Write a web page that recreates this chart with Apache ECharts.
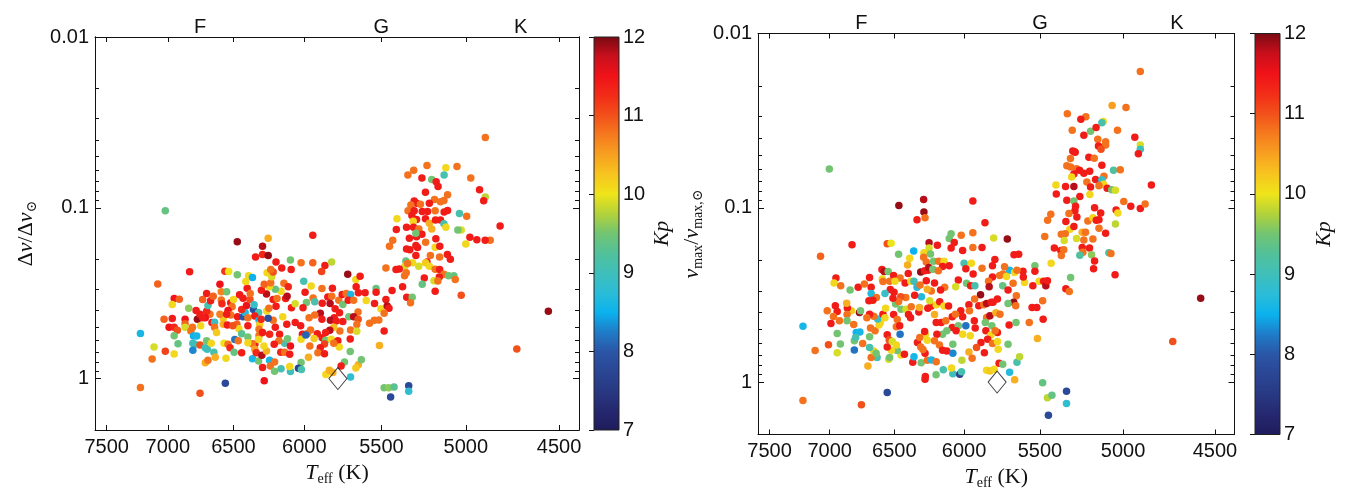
<!DOCTYPE html>
<html><head><meta charset="utf-8">
<script src="https://cdn.jsdelivr.net/npm/echarts@6.0.0/dist/echarts.min.js"></script>
<style>html,body{margin:0;padding:0;background:#fff}#c{width:1345px;height:495px}</style>
</head><body><div id="c"></div>
<script>
// ---------- tick labels / categories ----------
const teffTicks = [7500, 7000, 6500, 6000, 5500, 5000, 4500];
const spectralTeff = [6750, 5500, 4700];
const spectralLabels = ['F', 'G', 'K'];
const yMajorTicks = [0.01, 0.1, 1];
const yMinorTicks = [0.02, 0.03, 0.04, 0.05, 0.06, 0.07, 0.08, 0.09, 0.2, 0.3, 0.4, 0.5, 0.6, 0.7, 0.8, 0.9];
const kpTicks = [7, 8, 9, 10, 11, 12];
const kpRange = [[0, 7, 1, 12]];
const sunPoint = [[5777, 1]];
const jetColors = ['#1f1b5c','#25286f','#283882','#2a4694','#2b55a6','#1f7cc8','#0bb2ee','#2bbcd8','#3fbfba','#52c19a','#72c472','#b2d23a','#efe41a','#f7c41f','#f7a020','#f57a1e','#f2501a','#f22c18','#f01218','#c80f1c','#780a12'];

// ---------- series values: [Teff, ratio, Kp] ----------
const dnuStars = [
[7020,0.104,9.4],[6472,0.158,11.9],[6290,0.168,11.8],[6250,0.151,10.4],[6290,0.188,11.3],[6250,0.19,11.9],[6340,0.194,11.4],[6095,0.202,9.5],[6830,0.237,11.4],[6563,0.235,11.2],[6535,0.236,10.0],[6472,0.247,9.5],[6390,0.25,10.1],[6362,0.256,8.5],[7080,0.279,10.9],[6600,0.28,11.5],[6950,0.34,11.5],[6910,0.343,10.9],[6965,0.368,10.1],[6837,0.387,9.6],[6780,0.40,11.4],[7030,0.45,10.9],[6965,0.445,11.4],[6865,0.45,11.5],[6770,0.45,11.9],[6865,0.477,10.9],[6990,0.50,11.5],[6950,0.50,11.3],[6925,0.522,11.0],[6865,0.50,9.9],[6820,0.527,10.8],[6950,0.561,9.5],[6920,0.625,9.4],[7110,0.653,9.9],[7020,0.692,11.1],[6950,0.717,10.1],[7125,0.768,10.8],[7220,0.544,8.6],[7220,1.128,10.8],[6750,1.22,11.0],[6560,1.065,7.8],[6278,1.03,11.5],
[6800,0.563,8.5],[6775,0.563,8.6],[6805,0.62,9.0],[6790,0.63,9.0],[6805,0.683,8.3],[6750,0.636,11.0],[6710,0.66,9.0],[6695,0.674,9.0],[6710,0.807,10.4],[6690,0.78,10.8],[6700,0.60,9.5],[6665,0.62,10.1],[6645,0.70,9.1],[6635,0.75,10.4],[6660,0.47,11.4],[6640,0.468,8.9],[6640,0.50,10.8],[6625,0.538,10.2],[6675,0.42,10.8],[6700,0.403,11.3],[6710,0.44,11.5],[6690,0.373,9.1],[6730,0.344,10.9],[6700,0.318,11.4],[6590,0.31,10.7],[6550,0.31,9.5],[6590,0.347,10.8],[6585,0.364,11.3],[6520,0.36,11.4],[6510,0.38,10.8],[6500,0.344,10.1],[6540,0.40,11.5],[6575,0.445,10.2],[6600,0.42,10.7],[6575,0.48,10.4],[6545,0.485,11.4],[6520,0.425,10.8],[6570,0.62,10.0],[6540,0.63,10.8],[6525,0.66,11.3],[6555,0.76,10.1],[6495,0.70,9.4],[6490,0.59,8.2],[6465,0.60,10.8],[6475,0.48,10.9],[6460,0.51,10.1],[6470,0.435,11.4],[6430,0.435,8.0],[6415,0.41,8.7],[6395,0.44,10.8],[6395,0.49,11.4],[6440,0.546,9.3],[6395,0.57,9.5],[6440,0.394,11.3],[6405,0.373,11.5],[6380,0.344,11.0],[6430,0.338,11.4],[6455,0.323,11.4],[6400,0.296,11.4],[6410,0.27,10.1],[6378,0.318,10.8],[6355,0.394,7.9],[6318,0.41,9.1],[6350,0.37,8.9],[6345,0.43,11.4],[6315,0.456,8.6],[6310,0.48,10.2],[6300,0.45,11.3],[6315,0.515,10.8],[6345,0.63,11.4],[6363,0.625,10.8],[6345,0.674,10.5],[6362,0.765,8.6],[6335,0.705,11.3],[6318,0.79,9.5],[6295,0.73,11.8],[6290,0.86,11.4],[6262,0.69,10.4],[6280,0.644,10.1],[6240,0.78,8.6],[6235,0.843,10.8],[6205,0.80,10.8],[6205,0.906,9.5],[6160,0.875,9.1],[6162,0.70,11.3],[6135,0.70,10.8],[6100,0.72,11.4],[6095,0.91,9.0],[6100,0.85,10.1],[6135,0.62,9.1],[6115,0.585,9.5],[6170,0.55,11.4],[6200,0.50,11.4],[6215,0.456,10.8],[6148,0.435,10.1],[6250,0.443,7.9],[6260,0.402,10.1],[6245,0.388,10.8],[6195,0.377,11.4],[6215,0.344,11.4],[6188,0.34,10.8],[6128,0.34,11.4],[6118,0.33,11.8],[6160,0.308,10.1],[6200,0.30,9.4],[6242,0.29,10.1],[6262,0.32,11.8],[6298,0.304,11.4],[6278,0.28,10.9],[6232,0.275,10.8],[6225,0.253,9.9],[6258,0.24,10.1],[6215,0.238,11.0],[6155,0.225,11.4],[6090,0.23,11.4],[6140,0.277,10.8],[6110,0.29,11.3],[6195,0.208,11.4],[6232,0.23,10.8],[6088,0.385,11.4],[6120,0.48,11.4],[6095,0.645,11.5],[6175,0.60,10.8],[6208,0.63,11.4],[6315,0.56,10.8],[6290,0.538,11.4],[6240,0.55,11.3],[6318,0.59,10.1],[6440,0.705,11.4],[6395,0.616,10.1],[6505,0.49,11.0],[6550,0.42,11.4],[6670,0.35,11.4],[6650,0.33,10.9],[6808,0.50,10.8],[6745,0.49,10.1],[6730,0.44,11.4],[6750,0.42,11.4],
[5943,0.145,11.4],[6022,0.21,10.8],[5943,0.21,10.9],[5862,0.218,11.4],[5884,0.236,11.1],[5818,0.208,9.8],[5713,0.245,11.9],[5661,0.263,10.1],[5634,0.252,11.4],[6004,0.269,9.1],[5954,0.287,10.1],[5882,0.297,10.8],[5813,0.296,11.4],[5995,0.312,11.4],[6063,0.364,9.9],[5986,0.358,9.5],[6009,0.385,11.4],[5941,0.337,10.8],[5930,0.355,9.1],[5880,0.362,11.4],[5843,0.333,11.4],[5817,0.33,10.8],[5828,0.363,11.8],[5795,0.39,11.4],[5771,0.348,10.8],[5749,0.322,11.4],[5723,0.318,10.8],[5695,0.322,8.6],[5745,0.368,9.5],[5710,0.348,11.4],[5675,0.348,10.8],[5645,0.314,11.4],[5602,0.314,11.4],[5595,0.349,10.1],[5659,0.29,11.4],[5533,0.297,9.4],[5533,0.312,11.4],[5472,0.344,11.4],[5434,0.305,11.4],[5543,0.363,11.4],[5503,0.39,10.1],[5464,0.376,11.8],[5453,0.388,11.4],[5483,0.415,10.8],[5647,0.408,10.8],[5766,0.412,11.4],[5801,0.44,11.4],[5893,0.415,11.8],[5930,0.424,10.8],[5968,0.44,10.8],[5882,0.45,11.4],[5826,0.455,11.8],[5788,0.46,11.4],[5745,0.463,11.4],[5706,0.434,9.5],[5675,0.434,11.8],[5646,0.45,11.0],[5574,0.474,10.8],[5544,0.455,10.8],[5516,0.454,10.8],[5655,0.482,10.8],[5695,0.52,10.8],[5655,0.528,9.9],[5764,0.526,10.8],[5804,0.50,10.3],[5830,0.522,11.8],[5857,0.538,11.4],[5913,0.546,11.4],[5958,0.52,10.8],[5980,0.544,10.8],[6025,0.49,11.4],[6062,0.47,11.4],[6013,0.55,11.4],[6022,0.589,10.1],[5963,0.644,10.8],[5934,0.582,10.2],[5880,0.576,11.4],[5857,0.597,9.5],[5820,0.589,10.1],[5777,0.60,11.4],[5768,0.654,10.1],[5804,0.622,10.8],[5865,0.627,11.1],[5893,0.66,11.4],[5909,0.705,10.8],[5865,0.715,11.4],[5697,0.587,11.4],[5697,0.693,9.5],[5512,0.64,10.4],[5483,0.527,11.4],[5972,0.75,10.4],[6022,0.806,9.5],[5990,0.556,8.1],[6040,0.87,7.7],[6020,0.885,9.1],[5734,0.80,9.5],[5756,0.843,11.4],[5645,0.83,10.4],[5626,0.775,9.5],[5661,0.866,10.2],[5695,0.978,8.8],[5856,0.947,10.1],[5833,0.894,10.4],[5810,0.92,10.4],
[5483,1.13,9.5],[5455,1.13,9.6],[5422,1.12,9.3],[5333,1.10,7.8],[5333,1.185,8.8],[5443,1.28,7.8],
[5224,0.0565,10.8],[5114,0.0583,10.1],[5338,0.0643,10.8],[5303,0.0603,10.8],[5124,0.0643,9.1],[5254,0.067,11.4],[5196,0.0683,9.5],[5170,0.0703,11.4],[5159,0.0751,11.4],[5233,0.081,11.4],[5104,0.0838,10.8],[5180,0.0895,10.8],[5145,0.0921,10.8],[5125,0.0907,10.8],[5300,0.0912,11.4],[5286,0.094,11.4],[5320,0.0964,10.8],[5263,0.0953,10.8],[5210,0.094,11.4],[5337,0.104,10.8],[5300,0.104,11.4],[5252,0.105,11.4],[5221,0.105,11.4],[5176,0.104,10.8],[5124,0.106,11.4],[5104,0.1036,11.4],[5404,0.116,10.1],[5314,0.111,11.4],[5286,0.117,11.4],[5306,0.12,10.1],[5233,0.116,11.4],[5210,0.123,10.4],[5196,0.133,10.4],[5174,0.118,11.4],[5145,0.118,11.4],[5125,0.124,9.1],[5114,0.13,10.1],[5346,0.13,11.4],[5408,0.134,11.4],[5304,0.13,11.4],[5272,0.133,10.8],[5254,0.143,11.4],[5286,0.148,11.4],[5329,0.151,11.4],[5290,0.141,9.5],[5172,0.152,11.4],[5232,0.159,10.8],[5430,0.155,10.8],[5450,0.168,10.8],[5290,0.166,11.4],[5280,0.171,11.4],[5346,0.174,11.4],[5326,0.176,11.4],[5176,0.17,10.1],[5149,0.168,11.4],[5105,0.188,11.4],[5150,0.194,10.8],[5204,0.19,10.8],[5290,0.19,11.4],[5224,0.208,11.4],[5310,0.21,10.1],[5350,0.205,9.4],[5356,0.22,9.9],[5340,0.212,10.8],[5273,0.22,9.9],[5233,0.21,10.2],[5210,0.22,10.1],[5176,0.229,10.8],[5150,0.23,11.4],[5125,0.245,10.8],[5152,0.254,11.4],[5183,0.267,9.9],[5160,0.268,10.8],[5240,0.258,11.4],[5252,0.28,9.4],[5176,0.308,11.4],[5370,0.29,11.4],[5358,0.25,10.8],[5348,0.24,10.8],[5410,0.23,11.4],[5390,0.228,11.4],[5472,0.225,10.8],[5345,0.334,11.4],[5312,0.334,9.5],[5322,0.36,10.8],[5098,0.25,9.5],
[4891,0.0388,10.8],[5050,0.0573,10.8],[4972,0.067,10.8],[4923,0.0784,11.4],[4891,0.0865,9.8],[4900,0.091,11.4],[4810,0.128,11.4],[4864,0.155,10.8],[4892,0.155,11.4],[4938,0.154,11.4],[4977,0.149,11.4],[5000,0.163,10.1],[4995,0.112,10.8],[5026,0.135,9.9],[5036,0.108,9.1],[5045,0.135,9.5],[5068,0.25,9.4],[5060,0.263,10.8],[5026,0.325,11.0],[5088,0.2,11.4],[4555,0.403,11.9],[4720,0.671,11.0]
];

const numaxStars = [
[6285,0.0896,11.8],[6466,0.0969,11.9],[6283,0.1059,11.9],[6275,0.114,10.8],[6333,0.117,11.4],[6823,0.163,11.4],[7074,0.19,10.9],[6553,0.161,11.0],[6524,0.16,10.0],[6246,0.159,11.8],[6187,0.164,11.4],[6090,0.141,9.5],[6103,0.15,9.5],[6090,0.17,11.4],[6468,0.185,9.5],[6357,0.177,8.5],[6283,0.181,10.1],[6246,0.17,9.9],[6285,0.192,10.8],[6236,0.184,9.5],[6386,0.195,10.1],[6402,0.213,10.4],[6266,0.205,10.8],[6214,0.203,9.5],[6178,0.203,10.8],[6140,0.203,10.1],[6150,0.217,11.4],[6103,0.215,11.4],[6253,0.228,11.4],[6306,0.234,11.9],[6278,0.23,11.4],[6248,0.22,11.8],[6219,0.225,9.5],[6180,0.23,10.8],[6593,0.226,11.4],[6576,0.232,11.8],[6546,0.232,9.5],[6505,0.245,11.4],[6397,0.238,11.4],[6457,0.253,10.8],[6950,0.253,11.4],[6965,0.27,10.1],[6912,0.28,10.8],[6838,0.296,9.5],[6775,0.286,11.4],[6727,0.274,10.8],[6687,0.251,11.4],[6675,0.286,11.4],[6590,0.256,10.1],[6585,0.265,10.8],[6535,0.264,10.8],[6495,0.264,10.1],[6420,0.27,11.4],[6378,0.264,10.1],[6355,0.264,9.0],[6333,0.286,8.7],[6311,0.277,10.8],[6266,0.262,11.4],[6207,0.27,11.4],[6135,0.286,10.8],[6164,0.296,11.4],[6230,0.30,10.8],[6259,0.293,10.4],[6301,0.324,8.7],[6350,0.318,11.4],[6415,0.327,10.8],[6452,0.324,11.0],[6502,0.305,11.4],[6530,0.294,11.4],[6570,0.31,8.9],[6675,0.31,8.7],[6635,0.327,10.8],[6662,0.339,11.4],[6692,0.342,11.4],[6765,0.399,11.9],[6757,0.39,9.5],[6828,0.39,10.2],[6860,0.376,11.4],[6865,0.353,10.4],[6940,0.394,11.4],[6955,0.365,11.4],[7020,0.39,10.8],[6970,0.42,10.8],[6862,0.41,10.8],[6990,0.462,11.4],[6922,0.445,10.8],[6862,0.445,9.5],[6810,0.468,10.8],[7218,0.478,8.6],[6940,0.527,9.5],[7010,0.61,11.0],[6915,0.604,9.5],[7118,0.66,10.8],[6940,0.678,9.9],[7218,1.275,10.8],[6750,1.35,11.0],[6553,1.147,7.8],[6275,0.965,11.4],[6273,0.93,11.4],[6196,0.907,9.5],[6145,0.85,9.1],[6078,0.896,9.0],[6087,0.83,10.1],[6700,0.809,10.4],[6364,0.77,11.4],[6355,0.715,8.6],[6303,0.774,9.5],[6259,0.75,10.8],[6228,0.747,8.6],[6195,0.764,10.8],[6275,0.684,11.4],[6290,0.65,10.8],[6330,0.594,11.4],[6306,0.629,10.8],[6450,0.70,10.1],[6425,0.693,11.4],[6478,0.66,9.5],[6522,0.657,10.1],[6542,0.74,9.9],[6535,0.724,9.5],[6630,0.724,9.1],[6675,0.724,10.8],[6655,0.663,10.1],[6687,0.634,9.1],[6637,0.684,9.5],[6740,0.60,10.8],[6805,0.655,8.2],[6805,0.58,9.5],[6790,0.52,8.5],[6762,0.516,8.6],[6795,0.555,9.1],[6687,0.55,9.5],[6680,0.49,10.8],[6645,0.508,10.8],[6615,0.47,10.1],[6605,0.455,10.1],[6625,0.435,8.9],[6655,0.419,10.8],[6687,0.408,11.4],[6708,0.427,10.8],[6585,0.408,11.4],[6570,0.427,10.1],[6565,0.377,10.1],[6505,0.41,11.4],[6478,0.438,10.8],[6485,0.482,10.8],[6460,0.476,11.4],[6457,0.532,8.2],[6553,0.536,11.4],[6538,0.573,11.0],[6553,0.63,11.4],[6515,0.586,9.9],[6485,0.612,10.1],[6490,0.357,9.5],[6468,0.345,10.8],[6510,0.331,11.4],[6450,0.382,9.5],[6413,0.382,9.9],[6395,0.41,11.4],[6375,0.37,10.8],[6380,0.427,11.4],[6320,0.397,11.4],[6315,0.373,10.4],[6255,0.377,11.4],[6230,0.366,11.4],[6241,0.342,9.9],[6195,0.36,10.1],[6170,0.346,11.4],[6140,0.366,10.1],[6108,0.366,11.4],[6207,0.41,10.4],[6195,0.455,11.4],[6160,0.455,11.4],[6127,0.445,10.8],[6082,0.422,11.4],[6082,0.486,11.4],[6120,0.508,9.5],[6150,0.532,9.5],[6190,0.532,11.4],[6273,0.532,10.1],[6278,0.513,11.4],[6313,0.555,10.8],[6259,0.576,10.1],[6207,0.58,10.8],[6172,0.612,10.8],[6120,0.663,11.4],[6078,0.684,8.3],[6078,0.607,9.5],[6150,0.657,11.4],
[5940,0.0913,11.4],[5858,0.122,11.4],[6020,0.144,10.8],[5940,0.139,10.8],[5800,0.149,9.9],[5710,0.151,11.9],[5940,0.169,10.8],[5878,0.169,11.4],[6068,0.158,11.4],[6010,0.176,11.4],[5792,0.198,11.4],[5808,0.215,11.4],[5666,0.186,11.4],[5636,0.185,11.4],[5532,0.215,9.5],[5532,0.231,11.4],[5430,0.208,10.1],[6000,0.208,9.1],[5950,0.208,10.1],[5878,0.222,10.8],[5988,0.224,11.4],[5695,0.228,8.6],[5728,0.218,10.8],[5662,0.235,10.1],[5608,0.231,11.4],[5647,0.228,10.8],[5760,0.245,10.8],[5738,0.24,10.8],[5715,0.248,10.1],[5808,0.25,11.4],[5834,0.264,10.8],[5938,0.24,11.4],[6040,0.26,11.4],[5983,0.271,9.5],[6058,0.284,9.9],[5955,0.28,11.4],[5926,0.28,9.1],[5830,0.284,11.8],[5740,0.28,9.4],[5705,0.296,11.4],[5672,0.271,10.8],[5598,0.268,10.1],[5606,0.25,11.4],[5545,0.28,11.4],[5505,0.264,10.1],[5477,0.264,11.4],[5463,0.28,11.8],[5453,0.262,11.4],[5651,0.32,10.8],[5775,0.334,11.4],[5804,0.349,11.4],[5888,0.316,11.9],[5928,0.334,10.8],[5967,0.36,11.4],[5900,0.365,11.4],[5866,0.36,10.8],[5847,0.354,11.8],[5816,0.349,11.4],[5668,0.349,11.9],[5705,0.354,9.5],[5655,0.365,10.8],[5550,0.373,11.4],[5520,0.373,11.4],[5483,0.342,10.8],[6023,0.39,11.4],[6060,0.408,10.8],[5963,0.39,10.8],[6010,0.422,11.4],[5930,0.445,11.4],[5847,0.426,10.8],[5825,0.417,11.8],[5785,0.40,10.4],[5758,0.408,10.8],[5856,0.455,9.5],[5812,0.476,9.5],[5775,0.52,11.4],[5698,0.47,11.4],[5653,0.455,9.5],[5568,0.455,10.8],[5480,0.436,11.4],[5988,0.476,8.2],[6040,0.476,9.5],[6055,0.508,11.4],[6010,0.532,10.1],[5958,0.543,10.1],[5924,0.49,11.4],[5852,0.508,11.4],[5818,0.537,10.1],[5790,0.508,10.8],[5885,0.594,11.4],[5840,0.568,11.4],[5808,0.60,10.8],[5775,0.586,10.1],[5770,0.648,10.1],[5705,0.606,9.5],[5915,0.634,11.0],[5862,0.678,11.4],[5967,0.672,10.4],[6015,0.75,9.8],[5945,0.73,10.8],[6030,0.903,7.7],[6018,0.872,9.1],[5764,0.78,11.4],[5740,0.79,9.5],[5647,0.77,9.1],[5630,0.715,9.8],[5847,0.857,10.1],[5825,0.864,10.2],[5797,0.845,10.1],[5695,0.88,8.7],[5662,0.97,10.4],[5516,0.563,10.4],[5483,1.01,9.4],[5453,1.23,9.8],[5425,1.19,9.4],[5335,1.13,7.8],[5335,1.33,8.8],[5447,1.55,7.8],
[5287,0.0477,11.4],[5200,0.0513,11.4],[5168,0.052,10.8],[5333,0.0574,10.8],[5310,0.0583,10.8],[5274,0.0597,10.8],[5256,0.061,11.4],[5230,0.0634,11.4],[5195,0.0617,11.4],[5290,0.064,11.4],[5304,0.0667,10.1],[5160,0.0688,11.4],[5212,0.0711,10.8],[5341,0.0755,11.4],[5400,0.0741,10.1],[5290,0.0755,11.8],[5190,0.076,11.4],[5398,0.0833,11.4],[5194,0.084,10.1],[5254,0.0862,11.4],[5333,0.0906,11.4],[5290,0.0914,9.5],[5280,0.098,11.4],[5284,0.104,11.4],[5320,0.108,10.8],[5166,0.1,11.4],[5432,0.109,10.8],[5452,0.118,10.8],[5339,0.12,11.4],[5272,0.113,11.4],[5206,0.119,10.8],[5176,0.114,10.1],[5156,0.118,11.4],[5315,0.133,10.1],[5290,0.128,11.4],[5367,0.142,10.8],[5343,0.141,10.8],[5349,0.154,9.9],[5274,0.15,9.9],[5240,0.138,10.4],[5220,0.138,10.8],[5230,0.153,10.8],[5176,0.151,10.8],[5470,0.146,10.8],[5410,0.17,11.4],[5370,0.176,11.4],[5352,0.174,10.8],[5367,0.188,10.8],[5240,0.169,11.4],[5196,0.17,11.4],[5236,0.18,10.8],[5254,0.187,9.2],[5184,0.186,9.6],[5166,0.202,11.4],[5339,0.292,11.4],[5318,0.302,10.8],[5310,0.251,9.5],[5172,0.224,11.4],
[4902,0.0165,10.8],[5063,0.0259,10.5],[4983,0.0266,10.8],[5330,0.0289,10.8],[5218,0.030,10.8],[5248,0.0311,11.4],[5115,0.032,10.1],[5123,0.0325,9.1],[5300,0.0359,10.8],[5190,0.0364,9.5],[5157,0.0346,11.4],[5032,0.0359,10.8],[5230,0.0383,11.4],[4933,0.0394,11.4],[5147,0.0405,10.8],[5101,0.0418,10.8],[5101,0.0437,10.8],[5143,0.0442,11.4],[5128,0.0461,11.0],[4902,0.0437,9.9],[4902,0.0461,9.0],[4913,0.049,11.4],[5297,0.0472,11.4],[5282,0.048,11.4],[5123,0.0571,11.4],[5111,0.066,10.8],[5123,0.069,8.9],[5113,0.0733,10.1],[5092,0.0772,11.4],[5140,0.0747,10.8],[5055,0.061,9.2],[5016,0.0605,10.8],[5065,0.0787,9.5],[5044,0.0794,9.9],[4840,0.074,11.4],[4996,0.092,10.8],[4956,0.098,11.4],[4902,0.101,11.4],[4875,0.095,10.8],[5040,0.103,11.4],[5030,0.107,10.1],[5130,0.107,11.4],[5140,0.117,11.4],[5044,0.124,9.8],[5101,0.14,11.4],[5140,0.131,10.8],[5082,0.181,9.2],[5070,0.183,10.8],[5046,0.242,11.4],[4574,0.331,11.9],[5311,0.0522,10.8],
[7003,0.06,9.5],[4723,0.586,11.0]
];

// ---------- chart ----------
const SANS = '"Liberation Sans", Arial, sans-serif';
const SERIF = '"Liberation Serif", "DejaVu Serif", serif';
const INK = '#111';
const nameRich = {
  n: {fontFamily: SERIF, fontSize: 22, lineHeight: 26, color: INK},
  i: {fontFamily: SERIF, fontSize: 22, lineHeight: 26, fontStyle: 'italic', color: INK},
  s: {fontFamily: SERIF, fontSize: 14, lineHeight: 14, verticalAlign: 'bottom', color: INK}
};

function teffAxis(gridIndex, position, nameGap) {
  const bottom = position === 'bottom';
  return {
    type: 'log', logBase: 10, gridIndex, position, min: 4400, max: 7600, inverse: true,
    axisLine: {show: true, onZero: false, lineStyle: {color: INK, width: 1}},
    axisTick: {show: true, inside: true, length: 5, customValues: teffTicks, lineStyle: {color: INK, width: 1}},
    minorTick: {show: false}, splitLine: {show: false}, minorSplitLine: {show: false},
    axisLabel: bottom
      ? {show: true, customValues: teffTicks, formatter: v => String(Math.round(v)), fontFamily: SANS, fontSize: 20, color: INK, margin: 7}
      : {show: true, customValues: spectralTeff, fontFamily: SANS, fontSize: 20, color: INK, margin: 0,
         formatter: v => { let b = 0; spectralTeff.forEach((t, k) => { if (Math.abs(t - v) < Math.abs(spectralTeff[b] - v)) b = k; }); return spectralLabels[b]; }},
    name: bottom ? '{i|T}{s|eff}{n| (K)}' : '',
    nameLocation: 'middle', nameGap: nameGap,
    nameTextStyle: {rich: nameRich}
  };
}
function ratioAxis(gridIndex, position, ticks, len, withLabels, name, nameGap) {
  return {
    type: 'log', logBase: 10, gridIndex, position, min: 0.01, max: 2, inverse: true,
    axisLine: {show: true, onZero: false, lineStyle: {color: INK, width: 1}},
    axisTick: {show: true, inside: true, length: len, customValues: ticks, lineStyle: {color: INK, width: 1}},
    minorTick: {show: false}, splitLine: {show: false}, minorSplitLine: {show: false},
    axisLabel: withLabels ? {show: true, customValues: ticks, formatter: v => String(v), fontFamily: SANS, fontSize: 20, color: INK, margin: 6} : {show: false},
    name: name || '', nameLocation: 'middle', nameGap: nameGap || 0, nameRotate: 90,
    nameTextStyle: {rich: nameRich}
  };
}
function cbX(gridIndex) { return {type: 'value', gridIndex, min: 0, max: 1, show: false}; }
function cbY(gridIndex, nameGap) {
  return {
    type: 'value', gridIndex, position: 'right', min: 7, max: 12, interval: 1,
    axisLine: {show: false},
    axisTick: {show: true, inside: true, length: 5, customValues: kpTicks, lineStyle: {color: INK}},
    splitLine: {show: false},
    axisLabel: {show: true, customValues: kpTicks, fontFamily: SANS, fontSize: 20, color: INK, margin: 4},
    name: 'Kp', nameLocation: 'middle', nameRotate: 90, nameGap: nameGap,
    nameTextStyle: {fontFamily: SERIF, fontStyle: 'italic', fontSize: 22, color: INK}
  };
}
const stops = jetColors.map((c, k) => ({offset: k / (jetColors.length - 1), color: c}));
function cbRender(params, api) {
  const p0 = api.coord([api.value(0), api.value(1)]);
  const p1 = api.coord([api.value(2), api.value(3)]);
  return {type: 'rect', shape: {x: p0[0], y: p1[1], width: p1[0] - p0[0], height: p0[1] - p1[1]},
    style: {fill: new echarts.graphic.LinearGradient(0, 1, 0, 0, stops), stroke: '#222', lineWidth: 1}};
}

const chart = echarts.init(document.getElementById('c'), null, {renderer: 'canvas'});
chart.setOption({
  animation: false,
  backgroundColor: '#fff',
  textStyle: {fontFamily: SANS},
  grid: [
    {left: 95, top: 37, width: 484, height: 393, containLabel: false, outerBoundsMode: 'none'},
    {left: 594, top: 37, width: 25, height: 393, containLabel: false, outerBoundsMode: 'none'},
    {left: 758, top: 33.5, width: 476.5, height: 401, containLabel: false, outerBoundsMode: 'none'},
    {left: 1255, top: 33.5, width: 25, height: 401, containLabel: false, outerBoundsMode: 'none'}
  ],
  xAxis: [
    teffAxis(0, 'bottom', 27), teffAxis(0, 'top', 0), cbX(1),
    teffAxis(2, 'bottom', 27), teffAxis(2, 'top', 0), cbX(3)
  ],
  yAxis: [
    ratioAxis(0, 'left', yMajorTicks, 6, true, '{n|Δ}{i|ν}{n|/Δ}{i|ν}{s|⊙}', 56),
    ratioAxis(0, 'left', yMinorTicks, 4, false),
    ratioAxis(0, 'right', yMajorTicks, 6, false),
    ratioAxis(0, 'right', yMinorTicks, 4, false),
    cbY(1, 32),
    ratioAxis(2, 'left', yMajorTicks, 6, true, '{i|ν}{s|max}{n|/}{i|ν}{s|max,⊙}', 53),
    ratioAxis(2, 'left', yMinorTicks, 4, false),
    ratioAxis(2, 'right', yMajorTicks, 6, false),
    ratioAxis(2, 'right', yMinorTicks, 4, false),
    cbY(3, 33)
  ],
  visualMap: [{type: 'continuous', show: false, min: 7, max: 12, dimension: 2, seriesIndex: [0, 2], inRange: {color: jetColors}}],
  series: [
    {type: 'scatter', xAxisIndex: 0, yAxisIndex: 0, data: dnuStars, symbolSize: 7.5, itemStyle: {opacity: 1}, silent: true, z: 2},
    {type: 'scatter', xAxisIndex: 0, yAxisIndex: 0, data: sunPoint, symbol: 'diamond', symbolSize: [18, 22], silent: true, z: 5,
      itemStyle: {color: 'rgba(255,255,255,0)', borderColor: '#111', borderWidth: 1}},
    {type: 'scatter', xAxisIndex: 3, yAxisIndex: 5, data: numaxStars, symbolSize: 7.5, itemStyle: {opacity: 1}, silent: true, z: 2},
    {type: 'scatter', xAxisIndex: 3, yAxisIndex: 5, data: sunPoint, symbol: 'diamond', symbolSize: [18, 22], silent: true, z: 5,
      itemStyle: {color: 'rgba(255,255,255,0)', borderColor: '#111', borderWidth: 1}},
    {type: 'custom', xAxisIndex: 2, yAxisIndex: 4, data: kpRange, renderItem: cbRender, clip: false, silent: true},
    {type: 'custom', xAxisIndex: 5, yAxisIndex: 9, data: kpRange, renderItem: cbRender, clip: false, silent: true}
  ]
});
</script>
</body></html>
